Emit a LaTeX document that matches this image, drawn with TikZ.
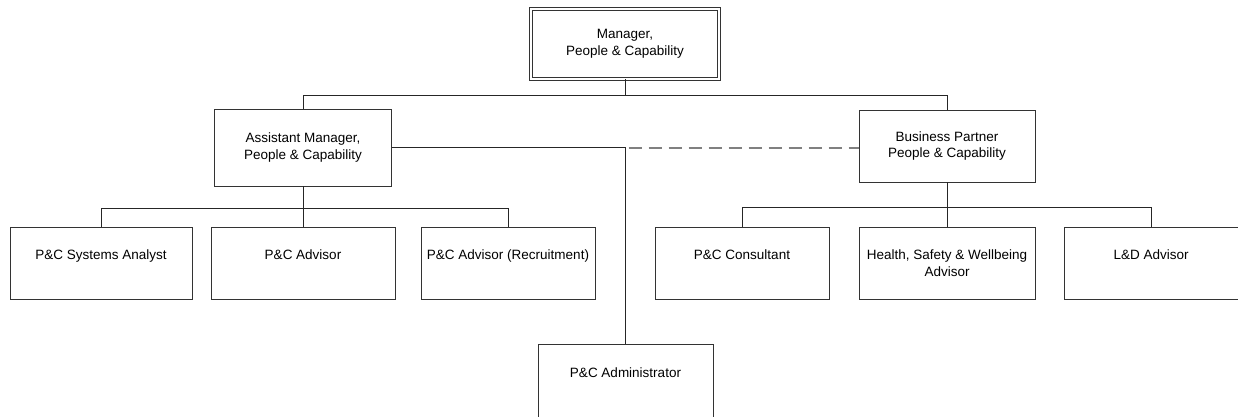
\documentclass[tikz,border=0pt]{standalone}
\usepackage{fontspec}
\setmainfont{Liberation Sans}
\begin{document}
\begin{tikzpicture}[x=1pt,y=-1pt,
  font=\fontsize{13.5pt}{16.5pt}\selectfont,
  box/.style={draw=black!80, line width=0.9pt, fill=white, inner sep=0pt, align=center},
  conn/.style={draw=black!85, line width=0.9pt},
  dashconn/.style={draw=black!50, line width=1.1pt, dash pattern=on 13pt off 7pt}]
\useasboundingbox (0,0) rectangle (1238,416);
\clip (0,0) rectangle (1238,416);
% nodes
\node[box, double, double distance=2.2pt, line width=0.8pt, minimum width=188pt, minimum height=70pt] (top) at (625,44) {Manager,\\People \& Capability};
\node[box, minimum width=177pt, minimum height=77pt] (asst) at (303,147.5) {Assistant Manager,\\People \& Capability};
\node[box, minimum width=176pt, minimum height=72pt] (bp) at (947,146) {Business Partner\\People \& Capability};
\node[box, minimum width=182pt, minimum height=72pt] (sa) at (101,263) {P\&C Systems Analyst\\\phantom{A}};
\node[box, minimum width=184pt, minimum height=72pt] (adv) at (303,263) {P\&C Advisor\\\phantom{A}};
\node[box, minimum width=174pt, minimum height=72pt] (rec) at (508,263) {P\&C Advisor (Recruitment)\\\phantom{A}};
\node[box, minimum width=174pt, minimum height=72pt] (con) at (742,263) {P\&C Consultant\\\phantom{A}};
\node[box, minimum width=176pt, minimum height=72pt] (hsw) at (947,263) {Health, Safety \& Wellbeing\\Advisor};
\node[box, minimum width=174pt, minimum height=72pt] (ld) at (1151,263) {L\&D Advisor\\\phantom{A}};
\node[box, minimum width=175pt, minimum height=74pt] (adm) at (625.5,381) {P\&C Administrator\\\phantom{A}};
% junctions
\coordinate (jt) at (625,95);
\coordinate (jl) at (303,208);
\coordinate (jr) at (947,207);
% connectors
\draw[conn] (top.south) -- (jt);
\draw[conn] (asst.north) -- (asst.north |- jt) -- (bp.north |- jt) -- (bp.north);
\draw[conn] (asst.east) -- (adm.north |- asst.east) coordinate (ja) -- (adm.north);
\coordinate (jd) at ([xshift=3pt,yshift=-0.5pt]ja);
\draw[dashconn] (jd) -- (bp.west |- jd);
\draw[conn] (asst.south) -- (jl);
\draw[conn] (sa.north) -- (sa.north |- jl) -- (rec.north |- jl) -- (rec.north);
\draw[conn] (adv.north) -- (adv.north |- jl);
\draw[conn] (bp.south) -- (jr);
\draw[conn] (con.north) -- (con.north |- jr) -- (ld.north |- jr) -- (ld.north);
\draw[conn] (hsw.north) -- (hsw.north |- jr);
\end{tikzpicture}
\end{document}
